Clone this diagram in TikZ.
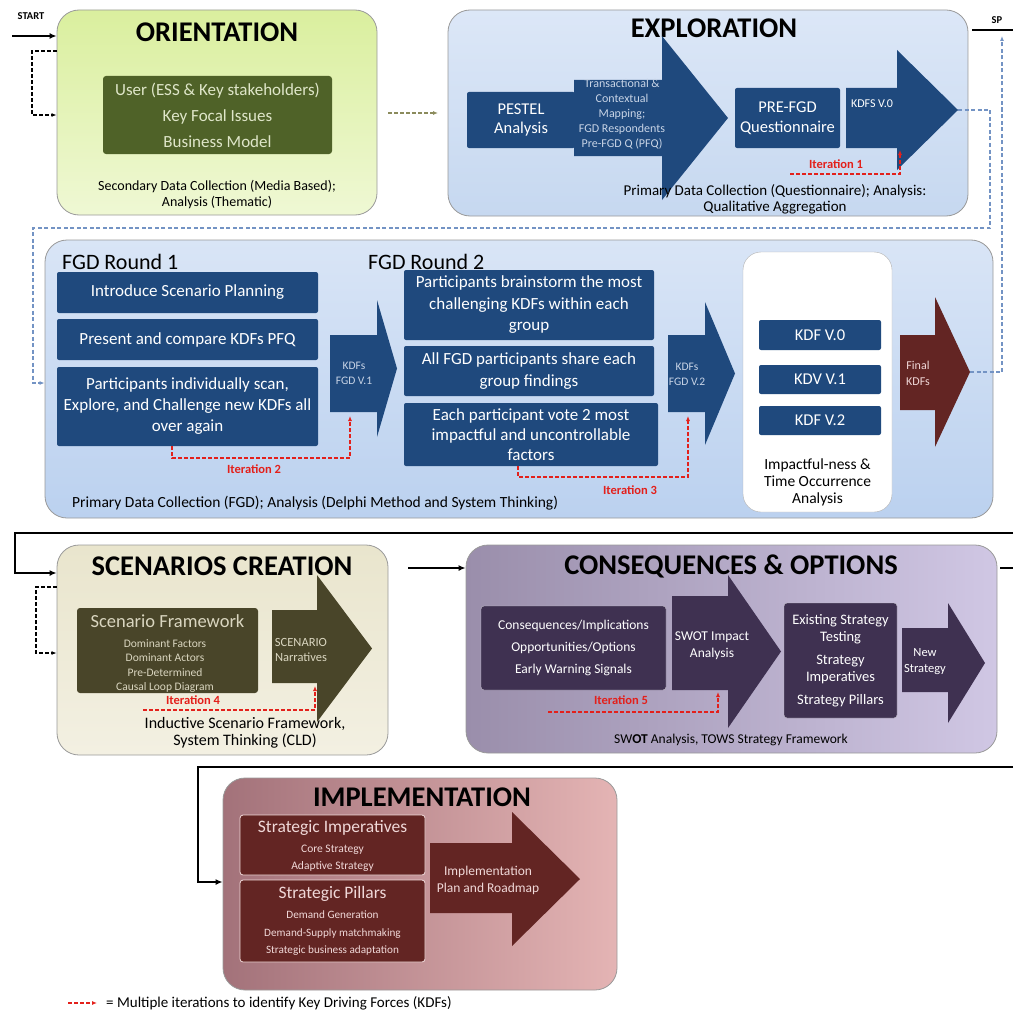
\documentclass[tikz,border=0pt]{standalone}
\usepackage{fontspec}
\setmainfont{Carlito}
\usetikzlibrary{arrows.meta}

\definecolor{navy}{HTML}{1F497D}
\definecolor{olivedk}{HTML}{4F6228}
\definecolor{khakidk}{HTML}{494529}
\definecolor{plumdk}{HTML}{3F3151}
\definecolor{maroondk}{HTML}{632523}
\definecolor{iterred}{HTML}{E3201B}
\definecolor{linkblue}{HTML}{7393C4}
\definecolor{olivelink}{HTML}{8B8B5C}
\definecolor{orTop}{HTML}{DAEF9E}
\definecolor{orBot}{HTML}{EFF8D4}
\definecolor{blTop}{HTML}{DCE7F7}
\definecolor{blBot}{HTML}{C6D8F0}
\definecolor{mdTop}{HTML}{D9E5F6}
\definecolor{mdBot}{HTML}{BBD1EF}
\definecolor{scTop}{HTML}{E9E5CD}
\definecolor{scBot}{HTML}{F3F0E2}
\definecolor{csL}{HTML}{9A8EAB}
\definecolor{csR}{HTML}{D0C7E4}
\definecolor{imL}{HTML}{A3727A}
\definecolor{imR}{HTML}{E4B4B4}
\definecolor{arrowtxt}{HTML}{C8D4E6}
\definecolor{olivetxt}{HTML}{DFE6C9}
\definecolor{khakitxt}{HTML}{DAD6C0}
\definecolor{pinktxt}{HTML}{F0D8D8}

\newcommand\fsz[2]{\fontsize{#1}{#2}\selectfont}
% block arrow: name, colour, x left, x neck, x tip, shaft top, shaft bottom, head top, head bottom
\newcommand\bigarrow[9]{%
  \fill[#2] (#3,#6) -- (#4,#6) -- (#4,#8) -- (#5,{(#8+#9)/2}) -- (#4,#9)
    -- (#4,#7) -- (#3,#7) -- cycle;
  \coordinate (#1) at (#5,{(#8+#9)/2});}

\begin{document}
\begin{tikzpicture}[x=1pt,y=-1pt,
  every node/.style={inner sep=0pt, align=center},
  panel/.style={draw=black!40, line width=0.8pt, rounded corners=22pt},
  navybox/.style={fill=navy, rounded corners=2pt, text=white},
  ttl/.style={font=\bfseries\fsz{28.5}{32}},
  iter/.style={draw=iterred, line width=1.5pt, dash pattern=on 4pt off 2pt, -{Latex[length=5pt,width=4pt]}},
  itlbl/.style={text=iterred, font=\bfseries\fsz{12.5}{13}},
  lnk/.style={draw=linkblue, line width=1.2pt, dash pattern=on 4pt off 2.5pt, -{Latex[length=5pt,width=4pt]}},
  blk/.style={draw=black, line width=1.8pt, -{Latex[length=7pt,width=6pt]}},
  blkdash/.style={draw=black, line width=1.3pt, dash pattern=on 4pt off 2pt, -{Latex[length=5pt,width=4pt]}},
  olvdash/.style={draw=olivelink, line width=1.2pt, dash pattern=on 4pt off 2pt, -{Latex[length=5pt,width=4pt]}},
]
\useasboundingbox (0,0) rectangle (1013,1014);

%% ---------------- ORIENTATION ----------------
\node[panel, top color=orTop, bottom color=orBot, minimum width=320, minimum height=205] (orient) at (217,112.5) {};
\node[ttl] (orientT) at (217,32) {ORIENTATION};
\node[fill=olivedk, rounded corners=3pt, minimum width=229, minimum height=78, text=olivetxt, font=\fsz{17}{26}] (orientIn) at (217.5,115)
  {User (ESS \& Key stakeholders)\\Key Focal Issues\\Business Model};
\node[font=\fsz{14}{16}] (orientF) at (217,195) {Secondary Data Collection (Media Based);\\Analysis (Thematic)};

\node[font=\bfseries\fsz{10.5}{12}] (start) at (31,16) {START};
\coordinate (startL) at (12,36);
\draw[blk] (startL) -- (orient.west |- startL);
\coordinate (orLoopA) at (32,51);
\coordinate (orLoopB) at (32,115);
\draw[blkdash] (orient.west |- orLoopA) -- (orLoopA) -- (orLoopB) -- (orient.west |- orLoopB);

\coordinate (orOut) at (388,113);
\coordinate (exIn) at (438,113);
\draw[olvdash] (orOut) -- (exIn);

%% ---------------- EXPLORATION ----------------
\node[panel, top color=blTop, bottom color=blBot, minimum width=520, minimum height=206] (explor) at (708,113) {};
\node[ttl] (explorT) at (714,28) {EXPLORATION};
\node[navybox, minimum width=108, minimum height=56, font=\fsz{16.5}{19}] (pestel) at (521,120) {PESTEL\\Analysis};
\bigarrow{mapTip}{navy}{574}{662}{728}{80}{156}{36}{200}
\node[text=arrowtxt, font=\fsz{12}{15}] (mapT) at (622,114)
  {Transactional \&\\Contextual\\Mapping;\\FGD Respondents\\Pre-FGD Q (PFQ)};
\node[navybox, minimum width=105, minimum height=60, font=\fsz{16.5}{20}] (prefgd) at (787.5,118) {PRE-FGD\\Questionnaire};
\bigarrow{kdfsTip}{navy}{846}{897}{958}{88}{148}{50}{170}
\node[text=white, font=\fsz{12}{13}] (kdfs0) at (872,104) {KDFS V.0};
\coordinate (it1S) at (790,174);
\coordinate (it1C) at (900,174);
\coordinate (it1E) at (900,150);
\draw[iter] (it1S) -- (it1C) -- (it1E);
\node[itlbl] (it1L) at (836,164) {Iteration 1};
\node[font=\fsz{15}{16}] (explorF) at (775,199) {Primary Data Collection (Questionnaire); Analysis:\\Qualitative Aggregation};

\node[font=\bfseries\fsz{10.5}{12}] (sp) at (997,20) {SP};
\coordinate (spL) at (972,30);
\coordinate (spR) at (1013,30);
\draw[line width=2pt] (spL) -- (spR);

%% ---------------- FGD ROUNDS ----------------
\node[panel, top color=mdTop, bottom color=mdBot, minimum width=948, minimum height=278] (mid) at (519,379) {};
\node[anchor=west, font=\fsz{22}{24}] (r1) at (62,262) {FGD Round 1};
\node[anchor=west, font=\fsz{22}{24}] (r2) at (368,262) {FGD Round 2};

\node[navybox, minimum width=261, minimum height=41, font=\fsz{17}{21}] (boxA) at (187.5,292.5) {Introduce Scenario Planning};
\node[navybox, minimum width=261, minimum height=41, font=\fsz{17}{21}] (boxB) at (187.5,339.5) {Present and compare KDFs PFQ};
\node[navybox, minimum width=261, minimum height=79, font=\fsz{17}{21}] (boxC) at (187.5,406.5)
  {Participants individually scan,\\Explore, and Challenge new KDFs all\\over again};
\bigarrow{v1Tip}{navy}{330}{377}{397}{335}{412}{300}{437}
\node[text=arrowtxt, font=\fsz{11.5}{15}] (v1) at (354,373) {KDFs\\FGD V.1};
\coordinate (it2S) at (172,446);
\coordinate (it2A) at (172,458);
\coordinate (it2B) at (350,458);
\coordinate (it2E) at (350,416);
\draw[iter] (it2S) -- (it2A) -- (it2B) -- (it2E);
\node[itlbl] (it2L) at (254,469) {Iteration 2};

\node[navybox, minimum width=250, minimum height=70, font=\fsz{17}{21.5}] (boxD) at (529,305)
  {Participants brainstorm the most\\challenging KDFs within each\\group};
\node[navybox, minimum width=250, minimum height=50, font=\fsz{17}{21.5}] (boxE) at (529,371)
  {All FGD participants share each\\group findings};
\node[navybox, minimum width=254, minimum height=63, font=\fsz{17}{20}] (boxF) at (531,434.5)
  {Each participant vote 2 most\\impactful and uncontrollable\\factors};
\bigarrow{v2Tip}{navy}{668}{705}{735}{335}{412}{302}{445}
\node[text=arrowtxt, font=\fsz{11.5}{15}] (v2) at (687,374) {KDFs\\FGD V.2};
\coordinate (it3S) at (518,466);
\coordinate (it3A) at (518,477);
\coordinate (it3B) at (688,477);
\coordinate (it3E) at (688,416);
\draw[iter] (it3S) -- (it3A) -- (it3B) -- (it3E);
\node[itlbl] (it3L) at (630,490) {Iteration 3};

\node[draw=black!30, fill=white, rounded corners=18pt, minimum width=149, minimum height=260] (tbox) at (817.5,382) {};
\node[navybox, minimum width=122, minimum height=30, font=\fsz{16.5}{18}] (kdf0) at (820,335) {KDF V.0};
\node[navybox, minimum width=122, minimum height=29, font=\fsz{16.5}{18}] (kdv1) at (820,379.5) {KDV V.1};
\node[navybox, minimum width=122, minimum height=29, font=\fsz{16.5}{18}] (kdf2) at (820,420.5) {KDF V.2};
\node[font=\fsz{15.5}{17}] (impT) at (817.5,482) {Impactful-ness \&\\Time Occurrence\\Analysis};
\bigarrow{finalTip}{maroondk}{900}{935}{970}{335}{410}{297}{447}
\node[text=pinktxt, font=\fsz{12}{16}] (finalT) at (918,373) {Final\\KDFs};
\node[anchor=west, font=\fsz{15.5}{16}] (midF) at (72,503)
  {Primary Data Collection (FGD); Analysis (Delphi Method and System Thinking)};

%% dashed feedback links
\coordinate (lkA) at (990,110);
\coordinate (lkB) at (990,228);
\coordinate (lkC) at (33,228);
\coordinate (lkD) at (33,383);
\draw[lnk] (kdfsTip) -- (lkA) -- (lkB) -- (lkC) -- (lkD) -- (mid.west |- lkD);
\coordinate (lkE) at (1002,372);
\coordinate (lkF) at (1002,36);
\draw[lnk] (finalTip) -- (lkE) -- (lkF);

%% ---------------- SCENARIOS CREATION ----------------
\coordinate (rowR) at (1013,533);
\coordinate (rowL) at (15,533);
\coordinate (rowD) at (15,573);
\node[panel, top color=scTop, bottom color=scBot, minimum width=331, minimum height=210] (scen) at (222.5,650) {};
\draw[blk] (rowR) -- (rowL) -- (rowD) -- (scen.west |- rowD);
\node[ttl] (scenT) at (222,566) {SCENARIOS CREATION};
\node[fill=khakidk, rounded corners=3pt, minimum width=181, minimum height=85] (sfw) at (167.5,650.5) {};
\node[text=khakitxt, font=\fsz{18.5}{20}] (sfwT) at (167.5,621) {Scenario Framework};
\node[text=khakitxt, font=\fsz{11.5}{14.5}] (sfwL) at (165,666)
  {Dominant Factors\\Dominant Actors\\Pre-Determined\\Causal Loop Diagram};
\bigarrow{narrTip}{khakidk}{272}{317}{372}{610}{683}{575}{722}
\node[text=khakitxt, font=\fsz{12.5}{15}] (narr) at (301,650) {SCENARIO\\Narratives};
\coordinate (it4S) at (143,710);
\coordinate (it4C) at (315,710);
\coordinate (it4E) at (315,686);
\draw[iter] (it4S) -- (it4C) -- (it4E);
\node[itlbl] (it4L) at (193,700) {Iteration 4};
\node[font=\fsz{16}{16.5}] (scenF) at (245,733) {Inductive Scenario Framework,\\System Thinking (CLD)};
\coordinate (scLoopA) at (36,587);
\coordinate (scLoopB) at (36,653);
\draw[blkdash] (scen.west |- scLoopA) -- (scLoopA) -- (scLoopB) -- (scen.west |- scLoopB);

%% ---------------- CONSEQUENCES & OPTIONS ----------------
\node[panel, left color=csL, right color=csR, minimum width=531, minimum height=208] (cons) at (731.5,649) {};
\coordinate (scOut) at (408,568);
\draw[blk] (scOut) -- (cons.west |- scOut);
\node[ttl] (consT) at (731,566) {CONSEQUENCES \& OPTIONS};
\node[fill=plumdk, draw=white!70!plumdk, rounded corners=3pt, minimum width=185, minimum height=84, text=white, font=\fsz{13.5}{22}] (impl1) at (573.5,648)
  {Consequences/Implications\\Opportunities/Options\\Early Warning Signals};
\bigarrow{swotTip}{plumdk}{672}{728}{781}{596}{690}{575}{728}
\node[text=white, font=\fsz{13.5}{17}] (swot) at (712,646) {SWOT Impact\\Analysis};
\node[fill=plumdk, draw=white!70!plumdk, rounded corners=3pt, minimum width=113, minimum height=115, text=white, font=\fsz{14.5}{17}] (strat) at (840.5,660.5)
  {Existing Strategy\\Testing\\[6pt]Strategy\\Imperatives\\[6pt]Strategy Pillars};
\bigarrow{newTip}{plumdk}{902}{948}{985}{628}{692}{603}{723}
\node[text=white, font=\fsz{12.5}{16}] (newS) at (925,662) {New\\Strategy};
\coordinate (it5S) at (548,712);
\coordinate (it5C) at (718,712);
\coordinate (it5E) at (718,692);
\draw[iter] (it5S) -- (it5C) -- (it5E);
\node[itlbl] (it5L) at (621,700) {Iteration 5};
\node[font=\fsz{13.5}{15}] (consF) at (731,740) {SW\textbf{OT} Analysis, TOWS Strategy Framework};
\coordinate (consR) at (1013,568);
\draw[line width=1.8pt] ([xshift=3pt]cons.east |- consR) -- (consR);

%% ---------------- IMPLEMENTATION ----------------
\coordinate (imR) at (1013,767);
\coordinate (imL) at (198,767);
\coordinate (imD) at (198,882);
\node[panel, left color=imL, right color=imR, minimum width=394, minimum height=212] (impl) at (420,884) {};
\draw[blk] (imR) -- (imL) -- (imD) -- (impl.west |- imD);
\node[ttl] (implT) at (422,797) {IMPLEMENTATION};
\node[fill=maroondk, draw=pinktxt, line width=0.8pt, rounded corners=3pt, minimum width=185, minimum height=60] (sImp) at (332.5,845) {};
\node[text=pinktxt, font=\fsz{17.5}{20}] (sImpT) at (332.5,828) {Strategic Imperatives};
\node[text=pinktxt, font=\fsz{11.5}{17}] (sImpL) at (332.5,858.5) {Core Strategy\\Adaptive Strategy};
\node[fill=maroondk, draw=pinktxt, line width=0.8pt, rounded corners=3pt, minimum width=185, minimum height=82] (sPil) at (332.5,921) {};
\node[text=pinktxt, font=\fsz{17.5}{20}] (sPilT) at (332.5,894) {Strategic Pillars};
\node[text=pinktxt, font=\fsz{11.2}{17.5}] (sPilL) at (332.5,933.5)
  {Demand Generation\\Demand-Supply matchmaking\\Strategic business adaptation};
\bigarrow{roadTip}{maroondk}{430}{512}{580}{843}{913}{812}{946}
\node[text=pinktxt, font=\fsz{13.5}{17}] (road) at (488,880) {Implementation\\Plan and Roadmap};

%% ---------------- LEGEND ----------------
\coordinate (lgA) at (68,1003);
\coordinate (lgB) at (97,1003);
\draw[iter] (lgA) -- (lgB);
\node[anchor=west, font=\fsz{15}{16}] (legend) at (106,1003) {= Multiple iterations to identify Key Driving Forces (KDFs)};

\end{tikzpicture}
\end{document}
